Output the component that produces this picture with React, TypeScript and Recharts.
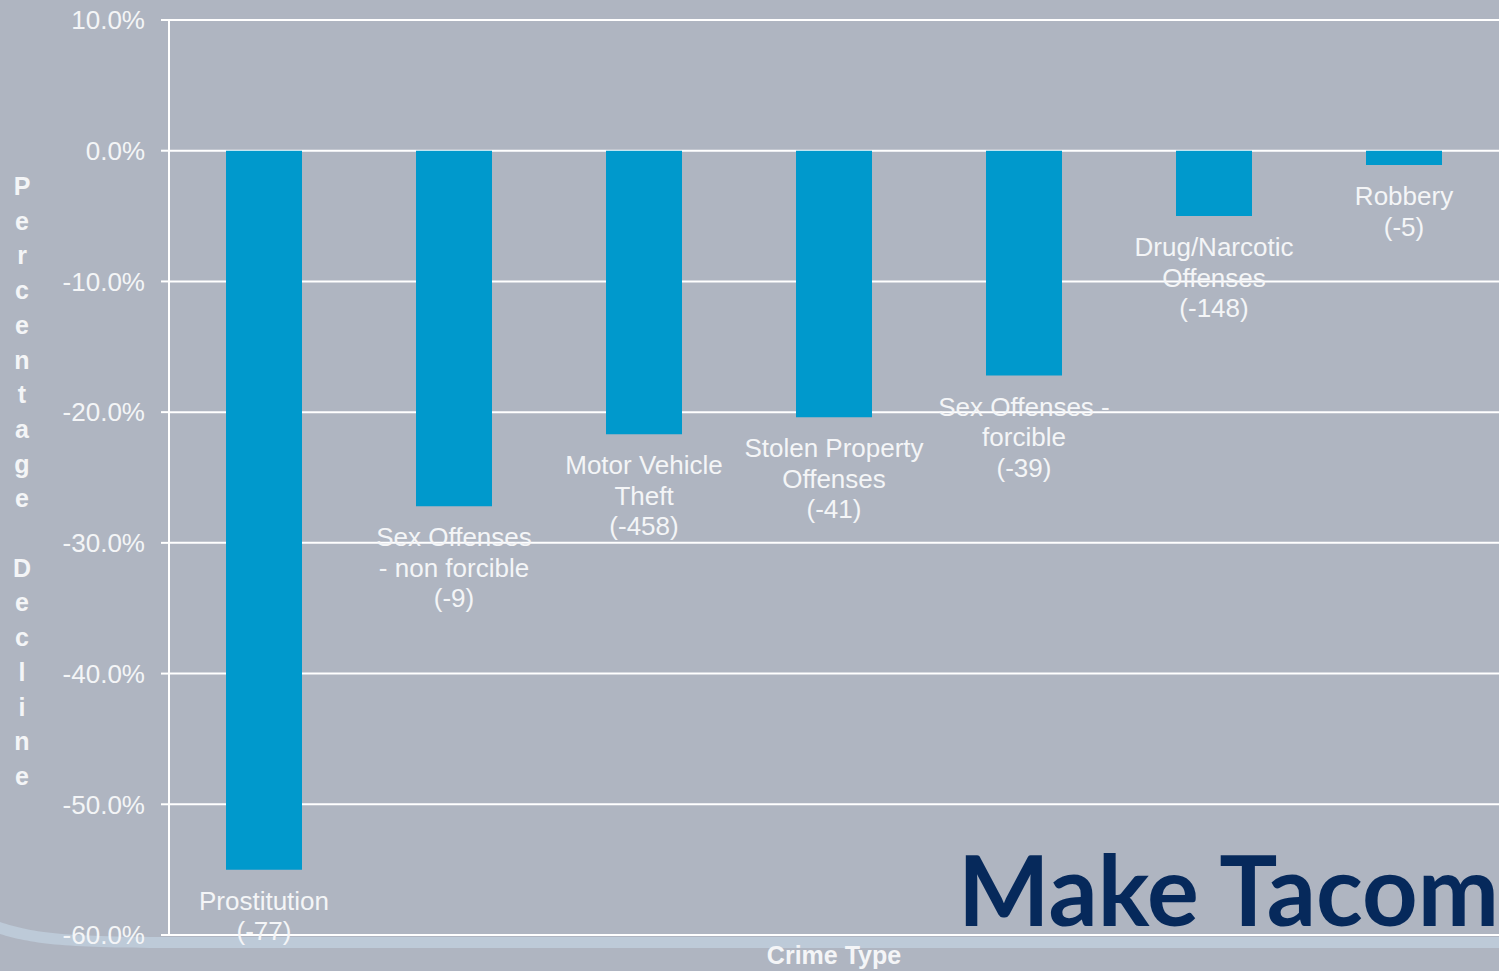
import { BarChart, Bar, XAxis, YAxis, CartesianGrid, LabelList } from 'recharts';

const crimeTypes = [
  'Prostitution',
  'Sex Offenses - non forcible',
  'Motor Vehicle Theft',
  'Stolen Property Offenses',
  'Sex Offenses - forcible',
  'Drug/Narcotic Offenses',
  'Robbery',
];
const labelLines = [
  ['Prostitution'],
  ['Sex Offenses', '- non forcible'],
  ['Motor Vehicle', 'Theft'],
  ['Stolen Property', 'Offenses'],
  ['Sex Offenses -', 'forcible'],
  ['Drug/Narcotic', 'Offenses'],
  ['Robbery'],
];
const declinePct = [-55.0, -27.2, -21.7, -20.4, -17.2, -5.0, -1.1];
const declineCount = [-77, -9, -458, -41, -39, -148, -5];
const yTicks = [10, 0, -10, -20, -30, -40, -50, -60];
const yTitle = 'Percentage Decline';

const data = crimeTypes.map((name, i) => ({ name, pct: declinePct[i] }));

const W = 1499;
const H = 971;
const BG = '#afb5c1';
const TXT = '#f4f5f7';
const FONT = '"Liberation Sans", Arial, sans-serif';

// multi-line label under the end of each (negative) bar
const BarLabel = (props: any) => {
  const vb = props.viewBox || props;
  const { x, y, width, height } = vb;
  const i = crimeTypes.indexOf(props.value);
  if (i < 0) return null;
  const bottom = Math.max(y, y + height);
  const cx = x + width / 2;
  const lines = [...labelLines[i], `(${declineCount[i]})`];
  return (
    <text x={cx} y={bottom + 40} textAnchor="middle" fill={TXT} fontSize={26} fontFamily={FONT}>
      {lines.map((l, k) => (
        <tspan key={k} x={cx} dy={k === 0 ? 0 : 30.5}>{l}</tspan>
      ))}
    </text>
  );
};

const YTitle = () => (
  <text textAnchor="middle" fill={TXT} fontSize={25} fontWeight="bold" fontFamily={FONT}>
    {yTitle.split('').map((ch, k) => (
      <tspan key={k} x={22} y={195 + k * 34.7}>{ch === ' ' ? '\u00a0' : ch}</tspan>
    ))}
  </text>
);

const XTitle = () => (
  <text x={834} y={964} textAnchor="middle" fill={TXT} fontSize={25} fontWeight="bold" fontFamily={FONT}>
    Crime Type
  </text>
);

export default function App() {
  return (
    <div style={{ position: 'absolute', left: 0, top: 0, width: W, height: H, overflow: 'hidden', background: BG }}>
      <svg width={W} height={H} style={{ position: 'absolute', left: 0, top: 0 }}>
        <path d="M0,922 C30,932 60,937 170,937 L1499,937 L1499,948 L170,948 C60,948 30,943 0,934 Z" fill="#bdcad8" />
      </svg>
      <div style={{ position: 'absolute', left: 0, top: 0 }}>
        <BarChart width={W} height={H} data={data} margin={{ top: 20, right: 0, bottom: 0, left: 0 }}>
          <CartesianGrid vertical={false} stroke="#ffffff" strokeWidth={2} />
          <XAxis dataKey="name" tick={false} axisLine={false} tickLine={false} height={36} label={XTitle} />
          <YAxis
            type="number"
            domain={[-60, 10]}
            ticks={yTicks}
            interval={0}
            tickFormatter={(v: number) => `${v.toFixed(1)}%`}
            tick={{ fill: TXT, fontSize: 26, fontFamily: FONT }}
            axisLine={{ stroke: '#ffffff', strokeWidth: 2 }}
            tickLine={{ stroke: '#ffffff', strokeWidth: 2 }}
            tickSize={8}
            tickMargin={16}
            width={169}
            label={YTitle}
          />
          <Bar dataKey="pct" fill="#0099cc" barSize={76} isAnimationActive={false}>
            <LabelList dataKey="name" content={BarLabel} />
          </Bar>
        </BarChart>
      </div>
      <svg width={W} height={H} style={{ position: 'absolute', left: 0, top: 0, pointerEvents: 'none' }}>
        <text x={958} y={926} fill="#06295b" fontSize={97} fontWeight="bold" fontFamily="Lato, sans-serif">
          Make Tacom
        </text>
      </svg>
    </div>
  );
}
